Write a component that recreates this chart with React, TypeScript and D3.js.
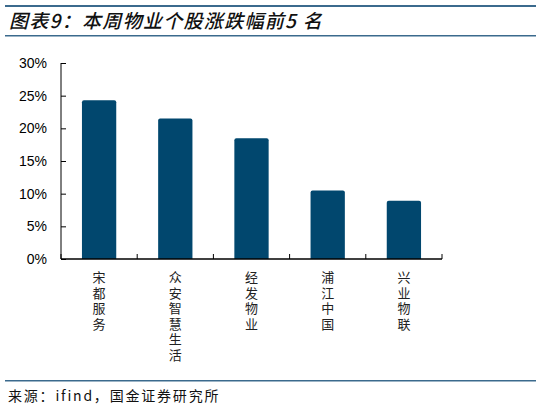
import { useEffect, useRef } from "react";
import * as d3 from "d3";

const categories = ["宋都服务", "众安智慧生活", "经发物业", "浦江中国", "兴业物联"];
const changes = [24.3, 21.5, 18.5, 10.5, 8.9];
const yTicks = [0, 5, 10, 15, 20, 25, 30];

const titleText = "图表9：本周物业个股涨跌幅前5 名";
const sourceText = "来源：ifind，国金证券研究所";

const W = 541;
const H = 409;
const barColor = "#01476e";
const ruleColor = "#3b6a8d";

export default function App() {
  const svgRef = useRef<SVGSVGElement>(null);

  useEffect(() => {
    if (!svgRef.current) return;
    const svg = d3.select(svgRef.current);
    svg.selectAll("*").remove();

    const left = 61;
    const right = 442;
    const top = 63;
    const bottom = 259;

    const x = d3
      .scaleBand<string>()
      .domain(categories)
      .range([left, right])
      .paddingInner(0.55)
      .paddingOuter(0.275);
    const y = d3.scaleLinear().domain([0, 30]).range([bottom, top]);

    // 上下の区切り線
    svg.append("rect").attr("x", 5).attr("y", 5).attr("width", 531).attr("height", 2).attr("fill", ruleColor);
    svg.append("rect").attr("x", 5).attr("y", 35).attr("width", 531).attr("height", 1.5).attr("fill", ruleColor);
    svg.append("rect").attr("x", 5).attr("y", 380).attr("width", 531).attr("height", 1.5).attr("fill", ruleColor);

    // タイトル
    svg
      .append("text")
      .attr("x", 9)
      .attr("y", 28)
      .attr("font-family", "'Noto Sans CJK SC', sans-serif")
      .attr("font-size", 19)
      .attr("font-style", "italic")
      .attr("font-weight", 500)
      .attr("letter-spacing", 1.3)
      .attr("fill", "#111")
      .text(titleText);

    // 棒（上端のみ角丸）
    const r = 2;
    svg
      .append("g")
      .selectAll("path")
      .data(changes)
      .enter()
      .append("path")
      .attr("fill", barColor)
      .attr("d", (d, i) => {
        const x0 = x(categories[i]) ?? 0;
        const x1 = x0 + x.bandwidth();
        const yt = y(d);
        const yb = y(0);
        return `M${x0},${yb}V${yt + r}Q${x0},${yt} ${x0 + r},${yt}H${x1 - r}Q${x1},${yt} ${x1},${yt + r}V${yb}Z`;
      });

    // Y軸
    const yAxis = svg.append("g").attr("transform", `translate(${left},0)`);
    yAxis
      .call(d3.axisRight(y).tickValues(yTicks).tickSize(5).tickFormat(() => ""))
      .call((g) => g.select(".domain").attr("stroke", "#000").attr("d", `M0,${top}V${bottom}`));
    yAxis.selectAll(".tick line").attr("stroke", "#000");

    svg
      .append("g")
      .selectAll("text")
      .data(yTicks)
      .enter()
      .append("text")
      .attr("x", 47)
      .attr("y", (d) => y(d))
      .attr("dy", "0.36em")
      .attr("text-anchor", "end")
      .attr("font-family", "'Liberation Sans', Arial, sans-serif")
      .attr("font-size", 14)
      .attr("fill", "#000")
      .text((d) => `${d}%`);

    // X軸
    const step = x.step();
    svg
      .append("line")
      .attr("x1", left)
      .attr("x2", right)
      .attr("y1", bottom)
      .attr("y2", bottom)
      .attr("stroke", "#000")
      .attr("stroke-width", 1.5);
    svg
      .append("g")
      .selectAll("line")
      .data(d3.range(categories.length + 1))
      .enter()
      .append("line")
      .attr("x1", (i) => left + i * step)
      .attr("x2", (i) => left + i * step)
      .attr("y1", bottom)
      .attr("y2", bottom - 5)
      .attr("stroke", "#000");

    // カテゴリラベル（一文字ずつ縦に並べる）
    const labels = svg
      .append("g")
      .selectAll("text")
      .data(categories)
      .enter()
      .append("text")
      .attr("font-family", "'Noto Sans CJK SC', sans-serif")
      .attr("font-size", 13)
      .attr("fill", "#222")
      .attr("text-anchor", "middle");
    labels
      .selectAll("tspan")
      .data((d) => Array.from(d).map((ch) => ({ ch, name: d })))
      .enter()
      .append("tspan")
      .attr("x", (d) => (x(d.name) ?? 0) + x.bandwidth() / 2)
      .attr("y", (_, j) => 282 + j * 15.6)
      .text((d) => d.ch);

    // 出典
    svg
      .append("text")
      .attr("x", 8)
      .attr("y", 401)
      .attr("font-family", "'Noto Sans CJK SC', sans-serif")
      .attr("font-size", 14)
      .attr("letter-spacing", 1.8)
      .attr("fill", "#111")
      .text(sourceText);
  }, []);

  return (
    <svg
      ref={svgRef}
      width={W}
      height={H}
      style={{ position: "absolute", left: 0, top: 0, background: "#fff" }}
    />
  );
}
